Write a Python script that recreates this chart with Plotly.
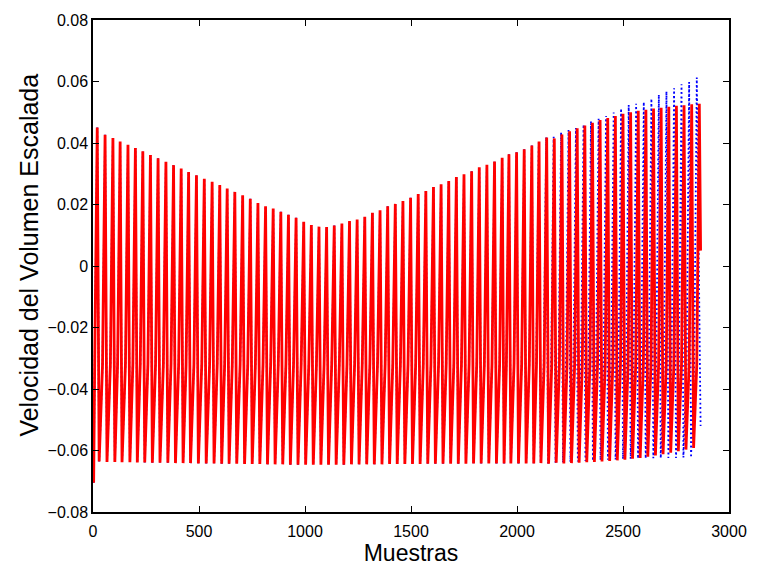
import plotly.graph_objects as go

# Sample index of each pulse maximum (both signals share these up to the tail)
peak_t = [20, 57, 94, 128, 165, 200, 235, 271, 307, 344, 380, 416, 451, 488, 525, 562,
          598, 633, 669, 706, 742, 778, 814, 850, 886, 922, 958, 994, 1030, 1066, 1102,
          1138, 1174, 1210, 1246, 1282, 1318, 1354, 1390, 1426, 1462, 1498, 1534, 1570,
          1606, 1642, 1678, 1714, 1750, 1786, 1822, 1858, 1894, 1930, 1962, 1998, 2034,
          2070, 2104, 2140, 2176, 2212, 2248, 2284, 2320, 2356, 2392, 2428, 2464, 2500,
          2536, 2572, 2608, 2644, 2680, 2716, 2752, 2788, 2824, 2860]

# Pulse maxima of the red (solid) signal
red_peak = [0.0450, 0.0427, 0.0416, 0.0405, 0.0394, 0.0384, 0.0373, 0.0361, 0.0350, 0.0339,
            0.0328, 0.0317, 0.0306, 0.0295, 0.0284, 0.0274, 0.0263, 0.0252, 0.0241, 0.0230,
            0.0219, 0.0205, 0.0194, 0.0187, 0.0176, 0.0167, 0.0157, 0.0144, 0.0133, 0.0128,
            0.0127, 0.0132, 0.0138, 0.0146, 0.0151, 0.0160, 0.0173, 0.0181, 0.0194, 0.0202,
            0.0211, 0.0222, 0.0234, 0.0244, 0.0257, 0.0266, 0.0276, 0.0289, 0.0298, 0.0308,
            0.0321, 0.0329, 0.0340, 0.0352, 0.0363, 0.0370, 0.0380, 0.0392, 0.0405, 0.0418,
            0.0415, 0.0428, 0.0438, 0.0448, 0.0457, 0.0466, 0.0475, 0.0481, 0.0488, 0.0495,
            0.0500, 0.0505, 0.0508, 0.0512, 0.0515, 0.0518, 0.0521, 0.0523, 0.0526, 0.0528]

# Pulse minima of the red signal
red_trough = [-0.0636, -0.0637, -0.0637, -0.0638, -0.0638, -0.0639, -0.0639, -0.0640, -0.0640,
              -0.0640, -0.0641, -0.0641, -0.0641, -0.0642, -0.0642, -0.0642, -0.0643, -0.0643,
              -0.0643, -0.0644, -0.0644, -0.0644, -0.0645, -0.0645, -0.0645, -0.0646, -0.0646,
              -0.0646, -0.0646, -0.0646, -0.0646, -0.0646, -0.0646, -0.0645, -0.0645, -0.0645,
              -0.0645, -0.0645, -0.0644, -0.0644, -0.0644, -0.0644, -0.0644, -0.0643, -0.0643,
              -0.0643, -0.0643, -0.0643, -0.0643, -0.0642, -0.0642, -0.0642, -0.0642, -0.0642,
              -0.0642, -0.0642, -0.0642, -0.0642, -0.0641, -0.0643, -0.0640, -0.0642, -0.0641,
              -0.0640, -0.0638, -0.0637, -0.0636, -0.0634, -0.0632, -0.0630, -0.0627, -0.0624,
              -0.0620, -0.0616, -0.0612, -0.0607, -0.0602, -0.0597, -0.0592, -0.0588]

# Level where the rising edge steepens into each pulse
knee_level = -0.032

# Start of both records and the red record's final sample
start_t = [0, 3]
start_v = [-0.0585, -0.0705]
red_end = (2866, 0.005)

# Blue (dotted) signal: from pulse 58 on it runs slightly ahead of the red one
tail_from = 58
blue_peak_tail = [0.0406, 0.0419, 0.0420, 0.0434, 0.0442, 0.0449, 0.0460, 0.0471, 0.0479,
                  0.0488, 0.0499, 0.0512, 0.0524, 0.0528, 0.0533, 0.0544, 0.0557, 0.0568,
                  0.0578, 0.0591, 0.0598, 0.0613]
blue_peak_t_tail = [2103, 2138, 2173, 2208, 2243, 2278, 2314, 2349, 2385, 2420, 2456, 2491,
                    2527, 2562, 2598, 2634, 2669, 2705, 2741, 2776, 2812, 2848]
blue_trough_tail = [-0.0641, -0.0642, -0.0640, -0.0639, -0.0637, -0.0636, -0.0634, -0.0633,
                    -0.0631, -0.0630, -0.0629, -0.0628, -0.0627, -0.0626, -0.0626, -0.0625,
                    -0.0625, -0.0624, -0.0624, -0.0623, -0.0623, -0.0622]
blue_end = (2866, -0.052)

# Pulse shape: samples from knee to maximum and from maximum to minimum
RISE, FALL = 12, 9


def build(peaks_t, peaks, troughs, end):
    xs, ys = list(start_t), list(start_v)
    for tp, pv, tv in zip(peaks_t, peaks, troughs):
        xs += [tp - RISE, tp, tp + FALL]
        ys += [knee_level, pv, tv]
    xs[-1], ys[-1] = end
    return xs, ys


red_x, red_y = build(peak_t, red_peak, red_trough, red_end)
blue_x, blue_y = build(peak_t[:tail_from] + blue_peak_t_tail,
                       red_peak[:tail_from] + blue_peak_tail,
                       red_trough[:tail_from] + blue_trough_tail,
                       blue_end)

fig = go.Figure()
fig.add_trace(go.Scatter(x=blue_x, y=blue_y, mode="lines",
                         line=dict(color="#0000ff", width=1.8, dash="1.8px,2.6px"),
                         hoverinfo="skip", showlegend=False))
fig.add_trace(go.Scatter(x=red_x, y=red_y, mode="lines",
                         line=dict(color="#ff0000", width=2.8),
                         hoverinfo="skip", showlegend=False))

font_family = "Liberation Sans, Arial, sans-serif"
axis_common = dict(showline=True, linecolor="black", linewidth=1.5, mirror="ticks",
                   ticks="inside", ticklen=6, tickwidth=1.2, tickcolor="black",
                   showgrid=False, zeroline=False,
                   tickfont=dict(family=font_family, size=16, color="black"))

fig.update_layout(
    width=759, height=568,
    margin=dict(l=93, r=21, t=15, b=50),
    paper_bgcolor="white", plot_bgcolor="white",
    xaxis=dict(range=[0, 3000], tickvals=[0, 500, 1000, 1500, 2000, 2500, 3000],
               ticklabelstandoff=4,
               title=dict(text="Muestras", standoff=0,
                          font=dict(family=font_family, size=23, color="black")),
               **axis_common),
    yaxis=dict(range=[-0.08, 0.08],
               tickvals=[-0.08, -0.06, -0.04, -0.02, 0, 0.02, 0.04, 0.06, 0.08],
               ticktext=["\u22120.08", "\u22120.06", "\u22120.04", "\u22120.02", "0",
                         "0.02", "0.04", "0.06", "0.08"],
               **axis_common),
    annotations=[dict(text="Velocidad del Volumen Escalada", textangle=-90,
                      xref="paper", yref="paper", x=-0.1008, y=0.523,
                      xanchor="center", yanchor="middle", showarrow=False,
                      font=dict(family=font_family, size=25, color="black"))],
)

fig.write_html("out.html")
